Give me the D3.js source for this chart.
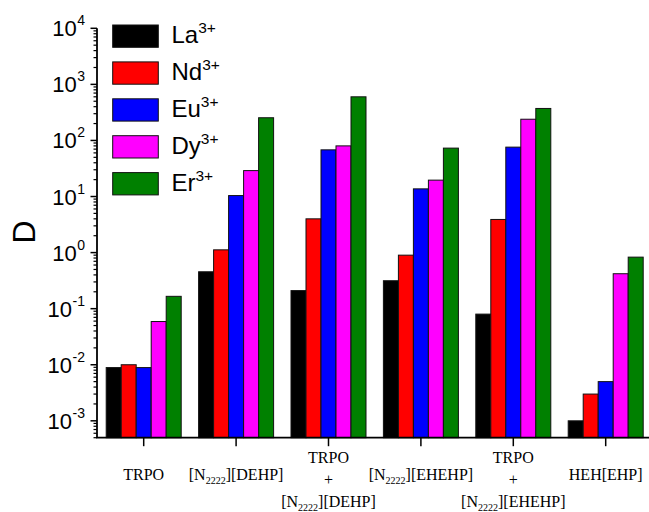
<!DOCTYPE html>
<html>
<head>
<meta charset="utf-8">
<script src="https://cdn.jsdelivr.net/npm/d3@7/dist/d3.min.js"></script>
<style>
  html, body { margin: 0; padding: 0; background: #fff; }
  svg { display: block; }
</style>
</head>
<body>
<svg id="chart" width="649" height="512"></svg>
<script>
// Distribution ratios D of lanthanide ions for each extraction system
const systems = ["TRPO", "[N2222][DEHP]", "TRPO+[N2222][DEHP]", "[N2222][EHEHP]", "TRPO+[N2222][EHEHP]", "HEH[EHP]"];
const ions = ["La", "Nd", "Eu", "Dy", "Er"];
const ionColors = ["#000000", "#ff0000", "#0000ff", "#ff00ff", "#008000"];

const La = [0.0089, 0.455, 0.21, 0.315, 0.08, 0.001];
const Nd = [0.0100, 1.12, 4.0, 0.9, 3.9, 0.003];
const Eu = [0.0089, 10.4, 68, 13.7, 76, 0.005];
const Dy = [0.059, 29, 80, 19.6, 239, 0.42];
const Er = [0.166, 254, 600, 73, 372, 0.83];
const seriesValues = [La, Nd, Eu, Dy, Er];

// tick labels: exponents of the decades on the log axis
const yExponents = [-3, -2, -1, 0, 1, 2, 3, 4];

// category labels, one array of lines per system; "_" marks subscript text
const xLabelLines = [
  [["TRPO"]],
  [["[N", "_2222", "][DEHP]"]],
  [["TRPO"], ["+"], ["[N", "_2222", "][DEHP]"]],
  [["[N", "_2222", "][EHEHP]"]],
  [["TRPO"], ["+"], ["[N", "_2222", "][EHEHP]"]],
  [["HEH[EHP]"]]
];

const svg = d3.select("#chart");
const axisY = 437.7, axisX = 97;

const y = d3.scaleLog().domain([5e-4, 1e4]).range([axisY, 28.3]);
const x = d3.scaleBand().domain(systems).range([97.5, 651.9]).paddingInner(0).paddingOuter(0);
const xs = d3.scaleBand().domain(ions).range([-37.5, 37.5]);

// bars
const gBars = svg.append("g");
seriesValues.forEach((vals, si) => {
  gBars.selectAll(null)
    .data(vals)
    .enter()
    .append("rect")
    .attr("x", (d, i) => x(systems[i]) + x.bandwidth() / 2 + xs(ions[si]))
    .attr("width", xs.bandwidth())
    .attr("y", d => y(d))
    .attr("height", d => axisY - y(d))
    .attr("fill", ionColors[si])
    .attr("stroke", "#111")
    .attr("stroke-width", 1);
});

// y axis: log ticks, major with 10^n labels, minor at 2..9
const gy = svg.append("g");
const minorTicks = [];
for (let e = -4; e <= 3; e++) {
  for (let m = 2; m <= 9; m++) {
    const v = m * Math.pow(10, e);
    if (v >= 5e-4 && v <= 1e4) minorTicks.push(v);
  }
}
gy.selectAll(".minor").data(minorTicks).enter().append("line")
  .attr("x1", axisX - 3.5).attr("x2", axisX)
  .attr("y1", d => y(d)).attr("y2", d => y(d))
  .attr("stroke", "#000").attr("stroke-width", 1.2);
gy.selectAll(".major").data(yExponents).enter().append("line")
  .attr("x1", axisX - 6.5).attr("x2", axisX)
  .attr("y1", d => y(Math.pow(10, d))).attr("y2", d => y(Math.pow(10, d)))
  .attr("stroke", "#000").attr("stroke-width", 1.5);
gy.append("line")
  .attr("x1", axisX).attr("x2", axisX)
  .attr("y1", y(1e4)).attr("y2", axisY)
  .attr("stroke", "#000").attr("stroke-width", 1.8);

yExponents.forEach(e => {
  const ty = y(Math.pow(10, e));
  const sup = gy.append("text")
    .attr("font-family", "Liberation Sans, Arial, sans-serif")
    .attr("font-size", 14)
    .attr("text-anchor", "end")
    .attr("x", 85)
    .attr("y", ty - 3)
    .text(e);
  const supW = sup.node().getComputedTextLength();
  gy.append("text")
    .attr("font-family", "Liberation Sans, Arial, sans-serif")
    .attr("font-size", 22)
    .attr("text-anchor", "end")
    .attr("x", 85 - supW - 0.5)
    .attr("y", ty + 8)
    .text("10");
});

// y axis title
svg.append("text")
  .attr("transform", "translate(35,232) rotate(-90)")
  .attr("text-anchor", "middle")
  .attr("font-family", "Liberation Sans, Arial, sans-serif")
  .attr("font-size", 32)
  .text("D");

// x axis
const gx = svg.append("g");
gx.append("line")
  .attr("x1", axisX - 0.9).attr("x2", 649)
  .attr("y1", axisY).attr("y2", axisY)
  .attr("stroke", "#000").attr("stroke-width", 1.8);
gx.selectAll(".xt").data(systems).enter().append("line")
  .attr("x1", d => x(d) + x.bandwidth() / 2).attr("x2", d => x(d) + x.bandwidth() / 2)
  .attr("y1", axisY).attr("y2", axisY + 8.5)
  .attr("stroke", "#000").attr("stroke-width", 1.5);

systems.forEach((s, i) => {
  const lines = xLabelLines[i];
  const cx = x(s) + x.bandwidth() / 2;
  const baselines = lines.length === 1 ? [479.5] : [462.5, 485, 506.5];
  lines.forEach((parts, li) => {
    const t = gx.append("text")
      .attr("x", cx)
      .attr("y", baselines[li])
      .attr("text-anchor", "middle")
      .attr("font-family", "Liberation Serif, Times New Roman, serif")
      .attr("font-size", 16);
    parts.forEach(p => {
      if (p.startsWith("_")) {
        t.append("tspan").attr("font-size", 10).attr("dy", 4.5).text(p.slice(1));
      } else {
        const ts = t.append("tspan").text(p);
        if (t.selectAll("tspan").size() > 1) ts.attr("dy", -4.5);
      }
    });
  });
});

// legend
const legend = svg.append("g");
ions.forEach((ion, i) => {
  const top = 25 + i * 36.9;
  legend.append("rect")
    .attr("x", 112.7).attr("y", top)
    .attr("width", 45.6).attr("height", 22.3)
    .attr("fill", ionColors[i])
    .attr("stroke", "#111").attr("stroke-width", 1);
  const t = legend.append("text")
    .attr("x", 171.5).attr("y", top + 18.4)
    .attr("font-family", "Liberation Sans, Arial, sans-serif")
    .attr("font-size", 24);
  t.append("tspan").text(ion);
  t.append("tspan").attr("font-size", 15.5).attr("dy", -10.5).text("3+");
});
</script>
</body>
</html>
